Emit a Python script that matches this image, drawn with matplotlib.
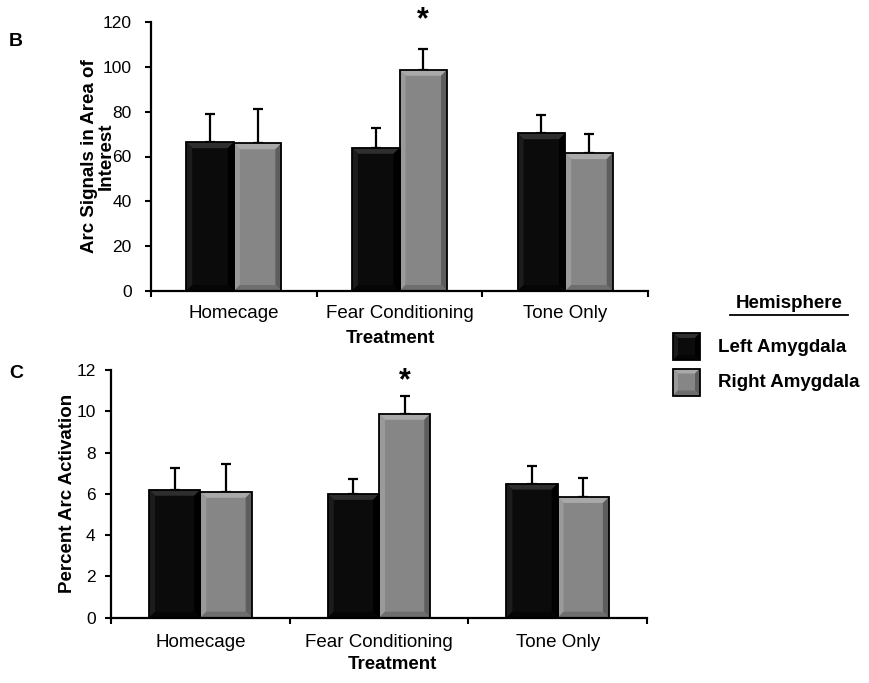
import matplotlib
matplotlib.use("Agg")
import matplotlib.pyplot as plt
import numpy as np
from matplotlib.patches import Polygon, Rectangle
from matplotlib.transforms import IdentityTransform
from matplotlib.lines import Line2D

plt.rcParams['font.family'] = ['Liberation Sans', 'DejaVu Sans']

# ---------------- data ----------------
categories = ["Homecage", "Fear Conditioning", "Tone Only"]
series_names = ["Left Amygdala", "Right Amygdala"]

arc_left = [66.4, 63.9, 70.4]
arc_left_err = [12.4, 8.7, 8.3]
arc_right = [65.9, 98.7, 61.5]
arc_right_err = [15.3, 9.3, 8.6]

pct_left = [6.2, 6.0, 6.5]
pct_left_err = [1.05, 0.74, 0.83]
pct_right = [6.1, 9.88, 5.85]
pct_right_err = [1.35, 0.88, 0.92]

sig_index = 1  # Fear Conditioning, right amygdala marked with *

arc_ticks = [0, 20, 40, 60, 80, 100, 120]
pct_ticks = [0, 2, 4, 6, 8, 10, 12]

# ---------------- style ----------------
W, H = 869, 683
DPI = 100
STYLE = {
    "left": dict(face="#0b0b0b", top="#2e2e2e", lft="#1c1c1c", rgt="#000000", bot="#050505"),
    "right": dict(face="#868686", top="#a9a9a9", lft="#9a9a9a", rgt="#5e5e5e", bot="#6e6e6e"),
}

fig = plt.figure(figsize=(W / DPI, H / DPI), dpi=DPI)
fig.patch.set_facecolor("white")


def px_rect(l, t, r, b):
    """image pixel box (top-left origin) -> figure fraction rect"""
    return [l / W, 1 - b / H, (r - l) / W, (b - t) / H]


def bevel(container, x0, y0, x1, y1, st, bw=6, z=5):
    tr = IdentityTransform()
    add = container.add_artist
    add(Rectangle((x0, y0), x1 - x0, y1 - y0, transform=tr, facecolor=st["face"],
                  edgecolor="none", zorder=z))
    bw = min(bw, (x1 - x0) / 2.0, (y1 - y0) / 2.0)
    polys = [
        ([(x0, y1), (x1, y1), (x1 - bw, y1 - bw), (x0 + bw, y1 - bw)], st["top"]),
        ([(x0, y0), (x0, y1), (x0 + bw, y1 - bw), (x0 + bw, y0 + bw)], st["lft"]),
        ([(x1, y0), (x1, y1), (x1 - bw, y1 - bw), (x1 - bw, y0 + bw)], st["rgt"]),
        ([(x0, y0), (x1, y0), (x1 - bw, y0 + bw), (x0 + bw, y0 + bw)], st["bot"]),
    ]
    for pts, c in polys:
        add(Polygon(pts, closed=True, transform=tr, facecolor=c, edgecolor="none", zorder=z + 0.1))
    add(Rectangle((x0, y0), x1 - x0, y1 - y0, transform=tr, facecolor="none",
                  edgecolor="black", linewidth=1.3, zorder=z + 0.2))


def panel(rect, left, left_err, right, right_err, ticks, ylabel, ylabel_xy, xlabel_xy,
          letter, letter_xy, star_offset, tick_pad, cat_pad):
    ax = fig.add_axes(rect)
    n = len(categories)
    x = np.arange(n) + 0.5
    width = 0.287
    ymax = ticks[-1]
    ax.set_xlim(0, n)
    ax.set_ylim(0, ymax)

    bl = ax.bar(x - width / 2, left, width, color="none", edgecolor="none", zorder=3)
    br = ax.bar(x + width / 2, right, width, color="none", edgecolor="none", zorder=3)
    for bars, vals, errs in ((bl, left, left_err), (br, right, right_err)):
        ax.errorbar([b.get_x() + b.get_width() / 2 for b in bars], vals,
                    yerr=[np.zeros(len(vals)), errs], fmt="none", ecolor="black",
                    elinewidth=1.6, capsize=3.5, capthick=1.6, zorder=2, clip_on=False)

    fig.canvas.draw()
    for bars, key in ((bl, "left"), (br, "right")):
        for b in bars:
            (x0, y0), (x1, y1) = ax.transData.transform(
                [(b.get_x(), 0), (b.get_x() + b.get_width(), b.get_height())])
            bevel(ax, x0, y0, x1, y1, STYLE[key])

    # significance star
    sx = br[sig_index].get_x() + br[sig_index].get_width() / 2
    sy = right[sig_index] + right_err[sig_index]
    ax.annotate("*", (sx, sy), xytext=(0, star_offset), textcoords="offset pixels",
                ha="center", va="center", fontsize=22, fontweight="bold",
                annotation_clip=False)

    for s in ("top", "right"):
        ax.spines[s].set_visible(False)
    for s in ("left", "bottom"):
        ax.spines[s].set_linewidth(1.6)
        ax.spines[s].set_zorder(10)

    ax.set_yticks(ticks)
    ax.set_yticklabels([str(t) for t in ticks], fontsize=12.5)
    ax.tick_params(axis="y", direction="out", length=4, width=1.5, pad=tick_pad)
    ax.set_xticks(np.arange(n + 1))
    ax.set_xticklabels([])
    ax.tick_params(axis="x", which="major", direction="out", length=4, width=1.5)
    ax.set_xticks(x, minor=True)
    ax.set_xticklabels(categories, minor=True, fontsize=13.5)
    ax.tick_params(axis="x", which="minor", length=0, pad=cat_pad)

    ax.set_ylabel(ylabel, fontsize=13.5, fontweight="bold", linespacing=1.05)
    ax.yaxis.set_label_coords(*ylabel_xy)
    ax.set_xlabel("Treatment", fontsize=13.5, fontweight="bold")
    ax.xaxis.set_label_coords(*xlabel_xy)
    fig.text(letter_xy[0] / W, 1 - letter_xy[1] / H, letter, fontsize=14,
             fontweight="bold", ha="center", va="center")
    return ax


panel(px_rect(151, 22, 648, 291), arc_left, arc_left_err, arc_right, arc_right_err,
      arc_ticks, "Arc Signals in Area of\nInterest", (-0.072, 0.5), (0.481, -0.145),
      "B", (16, 42), 29, 10, 10)
panel(px_rect(111, 370, 647, 617.7), pct_left, pct_left_err, pct_right, pct_right_err,
      pct_ticks, "Percent Arc Activation", (-0.065, 0.5), (0.526, -0.155),
      "C", (16, 373), 14, 7, 11.5)

# ---------------- legend ----------------
fig.text(789 / W, 1 - 304 / H, "Hemisphere", fontsize=13.5, fontweight="bold",
         ha="center", va="center")
fig.add_artist(Line2D([730 / W, 848 / W], [1 - 314.5 / H, 1 - 314.5 / H],
                      transform=fig.transFigure, color="black", linewidth=1.3))
for i, (name, key) in enumerate(zip(series_names, ("left", "right"))):
    top = 333 + i * 35.5
    bevel(fig, 673, H - (top + 27), 700, H - top, STYLE[key], bw=5)
    fig.text(718 / W, 1 - (top + 14) / H, name, fontsize=13.5, fontweight="bold",
             ha="left", va="center")

fig.savefig("out.png", dpi=DPI)
